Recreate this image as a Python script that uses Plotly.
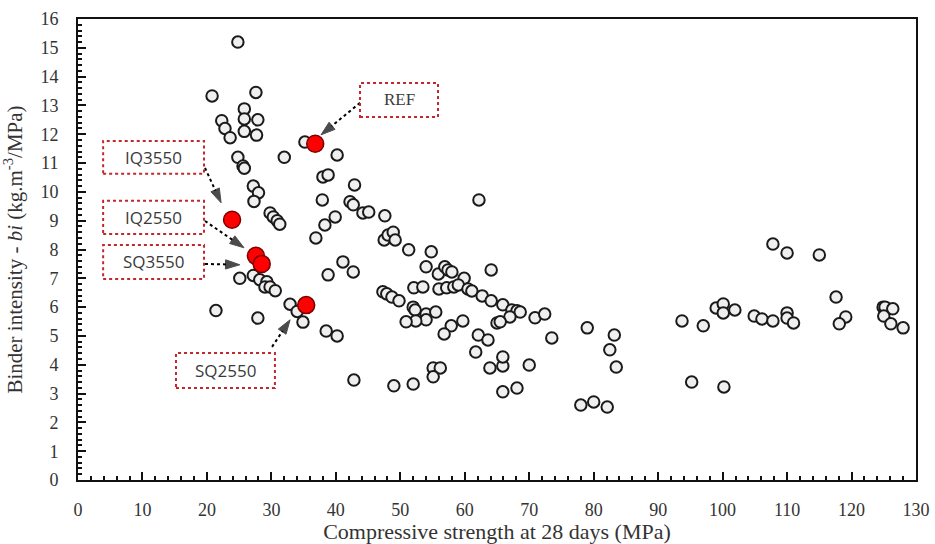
import plotly.graph_objects as go

# Open circles: compressive strength (MPa) and binder intensity (kg.m-3/MPa)
strength = [24.8, 20.8, 27.6, 22.3, 22.8, 25.8, 25.8, 27.9, 25.8, 27.7, 23.6, 24.8, 25.6, 25.8, 32.0,
            27.2, 28.0, 27.3, 29.8, 30.3, 30.9, 31.3, 25.1, 27.2, 28.2, 29.3, 29.0, 29.8, 30.6, 21.4,
            27.9, 32.9, 34.0, 34.9, 35.2, 40.2, 38.0, 38.8, 37.9, 42.2, 42.7, 42.9, 39.9, 38.3, 36.9,
            44.2, 45.1, 47.6, 47.5, 48.1, 48.9, 49.2, 41.1, 42.7, 38.8, 51.3, 54.8, 62.2, 47.3, 47.9,
            48.7, 49.8, 52.0, 52.3, 54.0, 54.0, 52.4, 50.9, 55.5, 52.1, 53.5, 54.0, 55.9, 56.9, 57.4,
            58.0, 59.9, 56.0, 57.2, 58.3, 59.0, 60.5, 61.1, 62.7, 64.1, 64.1, 65.9, 67.3, 68.1, 68.6,
            67.0, 65.0, 65.5, 70.9, 72.4, 73.5, 79.0, 59.7, 57.9, 56.8, 62.1, 63.6, 61.7, 63.9, 65.9,
            65.9, 70.0, 65.9, 68.1, 55.1, 56.2, 55.1, 42.8, 49.0, 52.0, 78.0, 80.0, 82.1, 83.2, 82.5,
            83.5, 38.5, 40.2, 107.8, 110.0, 115.0, 117.6, 119.1, 118.1, 124.9, 125.2, 126.4, 125.0, 126.1,
            128.0, 93.7, 97.0, 99.0, 100.1, 100.1, 101.9, 104.9, 106.1, 107.8, 110.0, 110.0, 111.0, 95.2,
            100.2]
intensity = [15.2, 13.33, 13.45, 12.47, 12.2, 12.88, 12.53, 12.5, 12.1, 11.97, 11.88, 11.2, 10.9, 10.82, 11.2,
             10.2, 9.97, 9.67, 9.27, 9.13, 9.0, 8.88, 7.0, 7.1, 6.95, 6.88, 6.7, 6.7, 6.57, 5.88,
             5.62, 6.1, 5.85, 5.48, 11.73, 11.28, 10.52, 10.59, 9.72, 9.66, 9.55, 10.24, 9.13, 8.85, 8.4,
             9.27, 9.3, 9.17, 8.33, 8.5, 8.6, 8.33, 7.57, 7.22, 7.12, 7.99, 7.92, 9.72, 6.53, 6.46,
             6.35, 6.22, 6.0, 5.9, 5.76, 5.56, 5.52, 5.49, 5.83, 6.67, 6.7, 7.4, 7.15, 7.4, 7.29,
             7.22, 7.0, 6.63, 6.67, 6.7, 6.77, 6.63, 6.56, 6.39, 6.22, 7.29, 6.08, 5.9, 5.87, 5.83,
             5.66, 5.45, 5.49, 5.63, 5.76, 4.93, 5.28, 5.52, 5.35, 5.07, 5.03, 4.86, 4.44, 3.89, 3.96,
             4.27, 3.99, 3.06, 3.19, 3.89, 3.89, 3.58, 3.47, 3.27, 3.33, 2.6, 2.71, 2.53, 5.03, 4.52,
             3.92, 5.17, 5.0, 8.19, 7.88, 7.81, 6.35, 5.66, 5.42, 6.0, 6.0, 5.94, 5.69, 5.42,
             5.28, 5.52, 5.35, 5.97, 6.11, 5.8, 5.9, 5.69, 5.59, 5.52, 5.8, 5.62, 5.45, 3.4,
             3.23]

# Highlighted mixes
mix_names = ["REF", "IQ3550", "IQ2550", "SQ3550", "SQ2550"]
mix_strength = [36.8, 23.9, 27.6, 28.5, 35.4]
mix_intensity = [11.67, 9.03, 7.78, 7.5, 6.07]

# Label boxes (x0, x1, y0, y1) and arrow tails / tips, in data units
box_x0 = [43.75, 3.9, 3.9, 3.9, 15.2]
box_x1 = [55.85, 19.55, 19.55, 19.55, 30.55]
box_y0 = [12.6, 10.63, 8.54, 6.98, 3.19]
box_y1 = [13.78, 11.77, 9.69, 8.16, 4.41]
tail_x = [43.75, 19.7, 19.7, 19.7, 30.1]
tail_y = [13.09, 10.83, 8.99, 7.5, 4.62]
tip_x = [37.7, 22.2, 25.75, 25.1, 32.9]
tip_y = [11.98, 9.62, 8.06, 7.47, 5.56]

x_ticks = list(range(0, 131, 10))
y_ticks = list(range(0, 17, 1))

fig = go.Figure()
fig.add_trace(go.Scatter(
    x=strength, y=intensity, mode="markers",
    marker=dict(size=11.5, color="#efefef", line=dict(color="#1a1a1a", width=2)),
    showlegend=False, hoverinfo="x+y"))
fig.add_trace(go.Scatter(
    x=mix_strength, y=mix_intensity, mode="markers", text=mix_names,
    marker=dict(size=17, color="#ff0000", line=dict(color="#7a0000", width=1.5)),
    showlegend=False))

serif = "Liberation Serif, Times New Roman, serif"
sans = "Open Sans, Noto Sans, sans-serif"

for i, name in enumerate(mix_names):
    fig.add_shape(type="rect", x0=box_x0[i], x1=box_x1[i], y0=box_y0[i], y1=box_y1[i],
                  xref="x", yref="y", line=dict(color="#c0282d", width=2, dash="dot"),
                  fillcolor="rgba(0,0,0,0)")
    fig.add_annotation(x=(box_x0[i] + box_x1[i]) / 2, y=(box_y0[i] + box_y1[i]) / 2,
                       text=name, showarrow=False, xref="x", yref="y",
                       font=dict(family=serif if name == "REF" else sans, size=17, color="#3a3a3a"))
    # dotted arrow with head oriented along the line
    fig.add_trace(go.Scatter(
        x=[tail_x[i], tip_x[i]], y=[tail_y[i], tip_y[i]], mode="lines+markers",
        line=dict(color="#000000", width=2, dash="dot"),
        marker=dict(symbol="arrow", size=[0, 15], angleref="previous", color="#000000",
                    line=dict(width=1, color="#000000")),
        showlegend=False, hoverinfo="skip"))

axis_common = dict(showgrid=False, zeroline=False, showline=True, linecolor="#111111",
                   linewidth=2, mirror=True, ticks="inside", ticklen=8, tickwidth=2,
                   tickcolor="#111111", automargin=False,
                   tickfont=dict(family=serif, size=18, color="#333333"))

fig.update_xaxes(range=[0, 130], tickvals=x_ticks, ticktext=[str(v) for v in x_ticks],
                 minor=dict(dtick=2, ticks="inside", ticklen=4, tickwidth=1.5, tickcolor="#111111"),
                 ticklabelstandoff=12,
                 title=dict(text="Compressive strength at 28 days (MPa)",
                            font=dict(family=serif, size=22, color="#333333"), standoff=10),
                 **axis_common)
fig.update_yaxes(range=[0, 16], tickvals=y_ticks, ticktext=[str(v) for v in y_ticks],
                 minor=dict(dtick=0.2, ticks="inside", ticklen=4, tickwidth=1.5, tickcolor="#111111"),
                 ticklabelstandoff=14,
                 title=dict(text="Binder intensity - <i>bi</i> (kg.m<sup>-3</sup>/MPa)",
                            font=dict(family=serif, size=21, color="#333333"), standoff=12),
                 **axis_common)

fig.update_layout(width=935, height=544, margin=dict(l=78, r=19, t=19, b=64),
                  plot_bgcolor="white", paper_bgcolor="white")

fig.write_html("out.html")
